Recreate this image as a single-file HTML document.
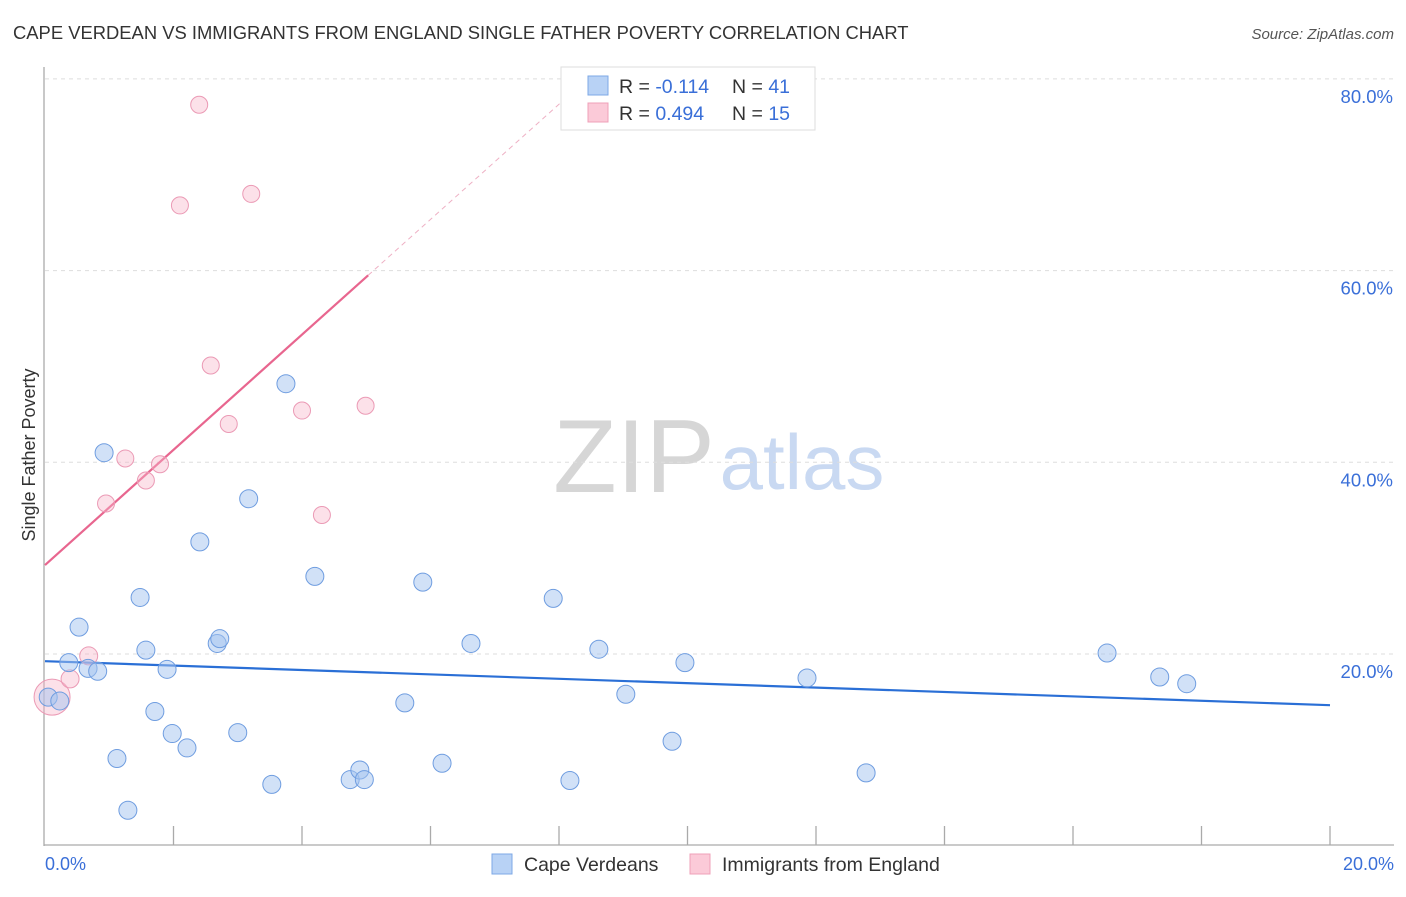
<!DOCTYPE html>
<html><head><meta charset="utf-8"><style>
body{margin:0;background:#fff;font-family:"Liberation Sans",sans-serif}
svg text{font-family:"Liberation Sans",sans-serif}
</style></head><body>
<svg id="chart" width="1406" height="892">
<text x="13" y="39" font-size="18.4" fill="#333">CAPE VERDEAN VS IMMIGRANTS FROM ENGLAND SINGLE FATHER POVERTY CORRELATION CHART</text>
<text x="1394" y="39" font-size="15" fill="#555" font-style="italic" text-anchor="end">Source: ZipAtlas.com</text>
<text x="634" y="492" font-size="104" fill="#d6d6d6" font-family="Liberation Serif,serif" text-anchor="middle">ZIP</text>
<text x="802" y="489" font-size="78" fill="#c9d9f2" text-anchor="middle">atlas</text>
<g id="grid"></g><g id="axes"></g><g id="trend"></g><g id="pts"></g>
<text x="35" y="455" font-size="18" fill="#333" text-anchor="middle" transform="rotate(-90 35 455)">Single Father Poverty</text>
<text x="45" y="870" font-size="18" fill="#3a6fd8">0.0%</text>
<text x="1394" y="870" font-size="18" fill="#3a6fd8" text-anchor="end">20.0%</text>
<g>
<rect x="561" y="67" width="254" height="63" fill="#fff" stroke="#ddd"/>
<rect x="588" y="76" width="20" height="19" fill="#b8d2f5" stroke="#7ea8e6"/>
<rect x="588" y="103" width="20" height="19" fill="#fbcad8" stroke="#efa0b8"/>
<text x="619" y="93" font-size="19.5" fill="#333">R = <tspan fill="#3a6fd8">-0.114</tspan></text>
<text x="732" y="93" font-size="19.5" fill="#333">N = <tspan fill="#3a6fd8">41</tspan></text>
<text x="619" y="120" font-size="19.5" fill="#333">R = <tspan fill="#3a6fd8">0.494</tspan></text>
<text x="732" y="120" font-size="19.5" fill="#333">N = <tspan fill="#3a6fd8">15</tspan></text>
</g>
<g>
<rect x="492" y="854" width="20" height="20" fill="#b8d2f5" stroke="#7ea8e6"/>
<text x="524" y="871" font-size="19.5" fill="#333">Cape Verdeans</text>
<rect x="690" y="854" width="20" height="20" fill="#fbcad8" stroke="#efa0b8"/>
<text x="722" y="871" font-size="19.5" fill="#333">Immigrants from England</text>
</g>
</svg>
<script>
const yTicks=[20,40,60,80];
const yTickLabels=["20.0%","40.0%","60.0%","80.0%"];
const xTicks=[0,2,4,6,8,10,12,14,16,18,20];
const blueX=[0.05,0.23,0.37,0.53,0.67,0.82,0.92,1.12,1.29,1.48,1.57,1.71,1.90,1.98,2.21,2.41,2.68,2.72,3.00,3.17,3.53,3.75,4.20,4.75,4.90,4.97,5.60,5.88,6.18,6.63,7.91,8.17,8.62,9.04,9.76,9.96,11.86,12.78,16.53,17.35,17.77];
const blueY=[15.5,15.1,19.1,22.8,18.5,18.2,41.0,9.1,3.7,25.9,20.4,14.0,18.4,11.7,10.2,31.7,21.1,21.6,11.8,36.2,6.4,48.2,28.1,6.9,7.9,6.9,14.9,27.5,8.6,21.1,25.8,6.8,20.5,15.8,10.9,19.1,17.5,7.6,20.1,17.6,16.9];
const pinkX=[0.11,0.39,0.68,0.95,1.25,1.57,1.79,2.10,2.40,2.58,2.86,3.21,4.00,4.31,4.99];
const pinkY=[15.5,17.4,19.8,35.7,40.4,38.1,39.8,66.8,77.3,50.1,44.0,68.0,45.4,34.5,45.9];
const pinkR=[18,9,9,8.5,8.5,8.5,8.5,8.5,8.5,8.5,8.5,8.5,8.5,8.5,8.5];
const blueTrend=[19.25,-0.2295];
const pinkTrend=[29.28,6.01];
const X=v=>45+v*64.25, Y=v=>845.7-v*9.585;
const NS="http://www.w3.org/2000/svg";
function mk(t,a,p){const e=document.createElementNS(NS,t);for(const k in a)e.setAttribute(k,a[k]);p.appendChild(e);return e;}
const g=document.getElementById('grid'),ax=document.getElementById('axes'),tr=document.getElementById('trend'),pts=document.getElementById('pts');
yTicks.forEach((v,i)=>{
 const l=mk('line',{x1:45,x2:1394,y1:Y(v),y2:Y(v),stroke:'#ddd','stroke-dasharray':'4 4'},g);
 
 
 const t=mk('text',{x:1393,y:Y(v)+24,'font-size':18.5,fill:'#3a6fd8','text-anchor':'end'},g);
 t.textContent=yTickLabels[i];
 
 
});
mk('line',{x1:44,x2:44,y1:67,y2:846,stroke:'#aaa','stroke-width':1.3},ax);
mk('line',{x1:44,x2:1394,y1:845,y2:845,stroke:'#aaa','stroke-width':1.3},ax);
xTicks.forEach(v=>{if(v>0){const t=mk('line',{x1:X(v),x2:X(v),y1:826,y2:845,stroke:'#aaa','stroke-width':1.3},ax);
 
 }});
let e=mk('line',{x1:X(0),y1:Y(blueTrend[0]),x2:X(20),y2:Y(blueTrend[0]+20*blueTrend[1]),stroke:'#2a6fd6','stroke-width':2.2},tr);


e=mk('line',{x1:X(0),y1:Y(pinkTrend[0]),x2:X(5.03),y2:Y(pinkTrend[0]+5.03*pinkTrend[1]),stroke:'#e8668f','stroke-width':2.2},tr);


e=mk('line',{x1:X(5.03),y1:Y(pinkTrend[0]+5.03*pinkTrend[1]),x2:X(8.1),y2:Y(pinkTrend[0]+8.1*pinkTrend[1]),stroke:'#eeb0c4','stroke-width':1,'stroke-dasharray':'5 4'},tr);


pinkX.forEach((v,i)=>{const c=mk('circle',{cx:X(v),cy:Y(pinkY[i]),r:pinkR[i],fill:'rgba(248,180,200,0.4)',stroke:'#eb9ab5','stroke-width':1},pts);
 
 });
blueX.forEach((v,i)=>{const c=mk('circle',{cx:X(v),cy:Y(blueY[i]),r:9,fill:'rgba(164,196,240,0.5)',stroke:'#6f9de0','stroke-width':1},pts);
 
 });
</script>
</body></html>
